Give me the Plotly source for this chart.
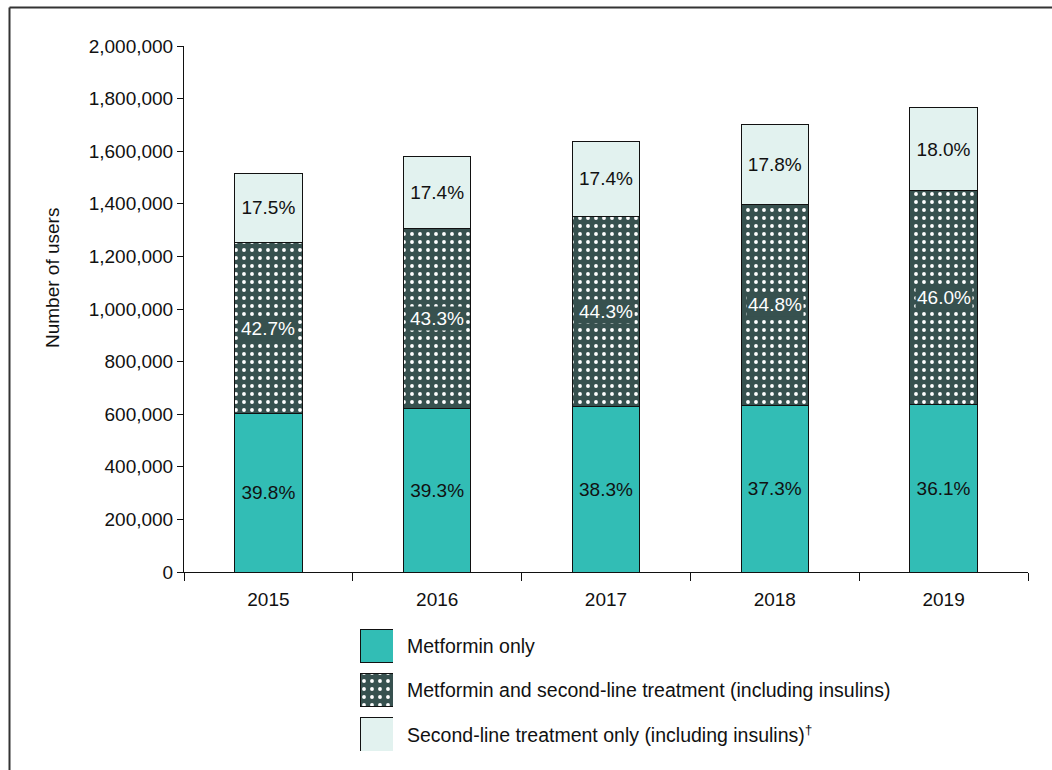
import plotly.graph_objects as go

years = ["2015", "2016", "2017", "2018", "2019"]
metformin_only = [603800, 620900, 627400, 634800, 637200]
metformin_second = [647800, 684100, 725600, 762500, 811900]
second_only = [265500, 274900, 285000, 303000, 317700]
pct_metformin_only = ["39.8%", "39.3%", "38.3%", "37.3%", "36.1%"]
pct_metformin_second = ["42.7%", "43.3%", "44.3%", "44.8%", "46.0%"]
pct_second_only = ["17.5%", "17.4%", "17.4%", "17.8%", "18.0%"]
y_ticks = [0, 200000, 400000, 600000, 800000, 1000000, 1200000, 1400000, 1600000, 1800000, 2000000]

legend_labels = [
    "Metformin only",
    "Metformin and second-line treatment (including insulins)",
    "Second-line treatment only (including insulins)<sup>†</sup>",
]

TEAL = "#32BDB5"
DARK = "#37514F"
LIGHT = "#E2F2EF"
FONT = "Liberation Sans, Arial, sans-serif"
FS = 19

# layout geometry (pixels)
W, H = 1052, 770
L, R, T, B = 184, 1028, 46, 752
PW, PH = R - L, B - T
main_bottom = 572

def px_x(px):
    return (px - L) / PW

def px_y(py):
    return (B - py) / PH

PATTERN = dict(shape=".", fgcolor="white", bgcolor=DARK, size=8, solidity=0.18,
               fillmode="replace")

fig = go.Figure()

fig.add_bar(x=years, y=metformin_only, width=0.4, name=legend_labels[0],
            marker=dict(color=TEAL, line=dict(color="#111", width=1)),
            text=pct_metformin_only, textposition="inside", insidetextanchor="middle",
            textangle=0, textfont=dict(size=FS, color="#111", family=FONT),
            showlegend=False)
fig.add_bar(x=years, y=metformin_second, width=0.4, name=legend_labels[1],
            marker=dict(color=DARK, line=dict(color="#111", width=1), pattern=PATTERN),
            showlegend=False)
fig.add_bar(x=years, y=second_only, width=0.4, name=legend_labels[2],
            marker=dict(color=LIGHT, line=dict(color="#111", width=1)),
            text=pct_second_only, textposition="inside", insidetextanchor="middle",
            textangle=0, textfont=dict(size=FS, color="#111", family=FONT),
            showlegend=False)

# middle labels with dark background (positions computed from data)
for i, (a, b, lab) in enumerate(zip(metformin_only, metformin_second, pct_metformin_second)):
    fig.add_annotation(x=i, y=a + b / 2, xref="x", yref="y", text=lab, showarrow=False,
                       font=dict(size=FS, color="white", family=FONT), bgcolor=DARK,
                       borderpad=1)

# legend swatches on a hidden axis
leg_pos = [2, 1, 0]
fig.add_bar(x=[1], y=[leg_pos[0]], orientation="h", xaxis="x2", yaxis="y2", width=0.742,
            marker=dict(color=TEAL, line=dict(color="#111", width=1)), showlegend=False,
            hoverinfo="skip")
fig.add_bar(x=[1], y=[leg_pos[1]], orientation="h", xaxis="x2", yaxis="y2", width=0.742,
            marker=dict(color=DARK, line=dict(color="#111", width=1), pattern=PATTERN),
            showlegend=False, hoverinfo="skip")
fig.add_bar(x=[1], y=[leg_pos[2]], orientation="h", xaxis="x2", yaxis="y2", width=0.742,
            marker=dict(color=LIGHT, line=dict(color="#111", width=1)), showlegend=False,
            hoverinfo="skip")
for lab, p in zip(legend_labels, leg_pos):
    fig.add_annotation(x=px_x(405), xref="paper", y=p, yref="y2", text=lab, showarrow=False,
                       xanchor="left", yanchor="middle",
                       font=dict(size=19.5, color="#111", family=FONT))

# y-axis title
fig.add_annotation(x=px_x(52), y=px_y(278), xref="paper", yref="paper",
                   xanchor="center", yanchor="middle",
                   text="Number of users", textangle=-90, showarrow=False,
                   font=dict(size=FS, color="#111", family=FONT))

# outer frame (top and left)
fig.add_shape(type="line", xref="paper", yref="paper", x0=px_x(9.5), x1=px_x(W + 5),
              y0=px_y(7.5), y1=px_y(7.5), line=dict(color="#333", width=2))
fig.add_shape(type="line", xref="paper", yref="paper", x0=px_x(9.5), x1=px_x(9.5),
              y0=px_y(7.5), y1=px_y(H + 5), line=dict(color="#333", width=2))

fig.update_layout(
    width=W, height=H,
    margin=dict(l=L, r=W - R, t=T, b=H - B, autoexpand=False),
    barmode="stack", bargap=0.6,
    plot_bgcolor="white", paper_bgcolor="white",
    font=dict(family=FONT, size=FS, color="#111"),
    xaxis=dict(type="category", range=[-0.5, 4.5], domain=[0, 1], anchor="y",
               showline=True, linecolor="#111",
               linewidth=1, ticks="outside", ticklen=8, tickcolor="#111",
               tickson="boundaries", showgrid=False, tickfont=dict(size=FS),
               ticklabelstandoff=10, tickangle=0, automargin=False),
    yaxis=dict(domain=[px_y(main_bottom), 1], anchor="x", range=[0, 2000000],
               tickvals=y_ticks, tickformat=",", showline=True, linecolor="#111",
               linewidth=1, ticks="outside", ticklen=6, tickcolor="#111", showgrid=False,
               zeroline=False, tickfont=dict(size=FS), automargin=False),
    xaxis2=dict(domain=[px_x(360), px_x(393)], anchor="y2", range=[0, 1], visible=False),
    yaxis2=dict(domain=[px_y(751), px_y(629)], anchor="x2", range=[-0.371, 2.371],
                visible=False),
)

fig.write_html("out.html", config={"displayModeBar": False},
               post_script="document.body.style.margin='0';")
